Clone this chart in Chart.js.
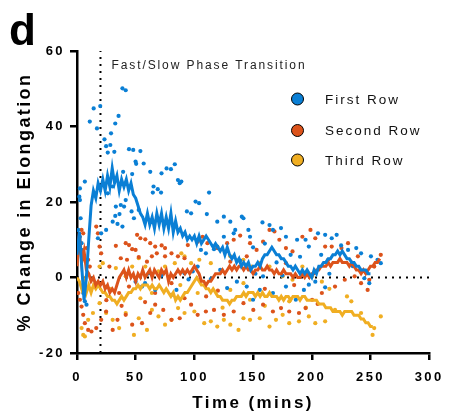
<!DOCTYPE html>
<html>
<head>
<meta charset="utf-8">
<script src="https://cdn.jsdelivr.net/npm/chart.js@4/dist/chart.umd.min.js"></script>
<style>
  html, body { margin: 0; padding: 0; background: #fff; }
  #wrap { width: 450px; height: 414px; }
</style>
</head>
<body>
<div id="wrap"><canvas id="chart" width="450" height="414"></canvas></div>
<script>
// time points (mins) of the averaged traces
const lineTimes = [
  0,2,4,6,8,10,12,14,16,18,
  20,22,24,26,28,30,32,34,36,38,
  40,42,44,46,48,50,52,54,56,58,
  60,62,64,66,68,70,72,74,76,78,
  80,82,84,86,88,90,92,94,96,98,
  100,102,104,106,108,110,112,114,116,118,
  120,122,124,126,128,130,132,134,136,138,
  140,142,144,146,148,150,152,154,156,158,
  160,162,164,166,168,170,172,174,176,178,
  180,182,184,186,188,190,192,194,196,198,
  200,202,204,206,208,210,212,214,216,218,
  220,222,224,226,228,230,232,234,236,238,
  240,242,244,246,248,250,252,254,256,258
];

const firstRowMean = [
  6, 12, 3, -6, 0, 10, 19, 23, 21, 25,
  23, 26, 23, 27, 24, 29, 25, 27, 23, 26,
  24, 26, 23, 25, 22, 21, 19, 17, 16, 14,
  17, 14, 16, 13, 17, 14, 17, 13, 16, 13,
  17, 12, 15, 12, 13, 11, 12, 10, 11, 10,
  11, 9, 11, 9, 10, 11, 10, 9, 8, 9,
  8, 7, 8, 6, 8, 6, 5, 6, 4, 5,
  3, 4, 3, 4, 2, 3, 3, 4, 3, 5,
  6, 6, 7, 8, 7, 6, 6, 5, 5, 4,
  3, 3, 2, 3, 2, 1, 2, 1, 2, 1,
  0, 2, 1, 3, 3, 4, 4, 5, 5, 6,
  6, 7, 6, 7, 6, 5, 5, 4, 4, 3,
  3, 2, 2, 2, 1, 1
];

const secondRowMean = [
  3, 12, 4, 7, 2, 1, -1, 0, -2, -1,
  -2, -1, -3, -2, -4, -3, -4, -2, 0, 1,
  2, 0, 2, 0, 1, -1, 1, 0, 2, 0,
  1, 2, 0, 2, 1, 0, 2, 1, 2, -1,
  1, 0, 1, 2, 1, 2, 1, 2, 1, 2,
  3, 2, 1, -1, -1, -2, -1, -1, 0, 1,
  1, 1, 2, 1, 2, 3, 2, 3, 2, 3,
  3, 2, 3, 2, 2, 1, 2, 2, 3, 2,
  2, 3, 2, 2, 1, 2, 1, 1, 2, 1,
  1, 1, 0, 1, 0, 0, 1, 0, 1, 0,
  1, 1, 2, 2, 3, 3, 3, 4, 3, 4,
  4, 4, 5, 4, 4, 4, 3, 4, 3, 2,
  2, 1, 2, 1, 2, 3, 3, 4, 4, 5
];

const thirdRowMean = [
  0, -1, -3, -1, -4, -2, -4, -2, -3, -2,
  -3, -4, -4, -5, -5, -6, -6, -7, -6, -5,
  -6, -5, -4, -4, -3, -3, -2, -3, -2, -2,
  -2, -3, -2, -3, -3, -2, -3, -4, -3, -4,
  -5, -4, -6, -5, -6, -5, -4, -4, -3, -2,
  -1, 0, -1, -2, -2, -3, -3, -4, -3, -4,
  -5, -5, -6, -6, -6, -7, -6, -6, -5, -5,
  -5, -4, -5, -4, -4, -4, -5, -4, -5, -4,
  -5, -5, -4, -5, -5, -5, -6, -5, -6, -5,
  -5, -6, -5, -5, -5, -6, -5, -5, -6, -6,
  -6, -6, -6, -7, -7, -7, -8, -8, -8, -9,
  -9, -9, -9, -10, -9, -9, -9, -9, -10, -10,
  -10, -11, -11, -12, -12, -13, -13
];

// individual samples [time, % change]
const firstRowDots = [
  [38.7,50.1],[41.5,49.6],[14.2,44.8],[19.8,45.4],[10.9,41.3],[17,39.5],[35.4,42.8],[32.6,40.8],
  [23.4,36.6],[29,38.2],[24.8,34.8],[28.4,35.1],[26.2,33.1],[31.8,33.3],[44.3,34],[47.9,33.8],
  [54,33.5],[49.9,30.7],[50.4,30.1],[56.8,30.2],[62.4,28],[72,27.6],[76.3,28.9],[80,28.7],
  [83.3,30],[86,25.8],[88.9,25.4],[87.5,25],[47,27.4],[39.3,28],[65.2,24.1],[68.8,23.4],
  [71.6,22.5],[64.6,22.5],[112.5,22.5],[101,20.1],[104,19.7],[93.6,17.5],[97.2,17],[110.6,16.8],
  [6.7,25.4],[2.5,23.6],[2,21.4],[2.5,20.5],[22,24.5],[26.2,22.3],[30.4,24.1],[33.1,18.8],
  [37.3,19.2],[40.1,18.8],[41.5,20.5],[46.5,17.5],[32.6,16.3],[36.2,16.8],[30.4,14.8],[34.5,14.2],
  [38.7,13.5],[48.5,15.7],[52.6,17.9],[17.8,10.4],[20.6,11.7],[24.8,12.6],[119.5,14.8],[125.1,16.1],
  [130.6,14.8],[134.8,12.6],[140.4,16.1],[141.8,15.7],[146,12.6],[147.4,10.8],[158,14.6],[164,13.9],
  [166.9,12.6],[173.8,13.1],[178,10.8],[187.5,10],[194.7,10],[197.5,8.2],[205.3,11.7],[211.4,11.3],
  [217,10.4],[221.2,11.3],[230.9,7.3],[237.9,7.8],[242,6.4],[250.4,5.6],[256,4.7],[258.8,3.8],
  [249,-1.5],[244.8,-0.2],[114,-0.4],[127.9,-2.8],[136.2,-1.1],[144.6,-2.4],[150,-5.9],[155.7,-3.3],
  [158.5,0.3],[166.9,-4.1],[178,-2.4],[186.4,-5.9],[193.3,-3.3],[203,-1.1],[211.4,-2.6],[197.5,-1.9],
  [84.7,-3.3],[80.5,-4.6],[66.6,-3.3],[55.4,-2.4],[49.9,-1.1],[61,1.1],[91.6,1.1],[98.6,1.6],
  [102.8,2.9],[105.6,7.3],[109.8,6.4],[116.7,7.5],[125.1,10.8],[133.5,11.7],[119.5,8.2],
  [6.7,-6.3],[8.1,-7.2],[5.3,-4.1],[3.9,7.3],[3.9,9.1],[2.5,10.8],[1.1,12.6],[3.1,15.7],
  [170,4],[182,6],[190,5.5],[215,1],[225,8.5],[235,3],[160,9],[150,8],
  [58,-1.5],[72,0.5],[95,-0.5],[122,2],[139,4.5],[152,1],[175,0.5],[208,6]
];

const secondRowDots = [
  [16.4,13.5],[17.8,11.7],[19.2,8.2],[20.6,6.4],[3.9,12.6],[5.3,11.7],[8.1,7.8],[9.5,4.7],[10.9,2.9],
  [33.1,8.4],[41.5,9.1],[44.3,8.6],[47,7.5],[49.9,7.3],[51.2,11.3],[54,10.4],[58.2,10.1],[62.4,9.1],
  [66.6,8.2],[72.1,8.5],[75,7.8],[37.3,5.1],[42.6,4.7],[52.6,5.4],[59.6,4.2],[63.8,5.6],[68,6.4],
  [75,5.6],[80.5,6.4],[86,5.6],[91.6,5.1],[94.4,8.6],[102.8,9.5],[107,10.8],[111.1,9.1],[119.5,7.8],
  [127.9,9.1],[133.5,10],[139,11.1],[147.4,9.1],[153,7.3],[158.5,9.5],[164,12.6],[168.2,12.2],
  [172.4,10],[178,7.8],[183.6,6.9],[192,10.8],[198.9,12.6],[203,10.4],[211.4,8.2],[217,8.2],
  [225.3,7.8],[230.9,9.1],[239.3,5.6],
  [1.1,-4.1],[2.5,-5.9],[3.9,-7.7],[5.3,-9.9],[6.7,-12.1],[9.5,-13.9],[12.3,-14.3],[16.4,-13.4],
  [20.6,-11.2],[24.8,-9],[30.4,-13.9],[34.5,-11.2],[41.5,-9.9],[47,-12.5],[55.4,-12.1],[62.4,-9.4],
  [66.6,-7.2],[73.5,-8.6],[80.5,-11.2],[87.5,-10.8],[91.6,-5.5],[97.2,-7.2],[102.8,-9.9],[109.8,-9],
  [116.7,-8.6],[125.1,-9.9],[133.5,-9],[141.8,-6.8],[150.2,-8.6],[158.5,-7.2],[166.9,-9],[173.8,-8.1],
  [180.8,-9],[189.1,-9.4],[194.7,-8.1],[200.3,-5.9],[208.6,-4.1],[219.8,-2.4],[228.1,-0.6],[236.5,0.3],
  [242,-1.5],[247.6,-3.3],
  [130.6,4.2],[144.6,5.6],[178,3.8],[214,4.7],[258.8,6],[253.2,2.9],[249,-0.6],
  [27.6,2.9],[35.9,-4.1],[44.3,-2.4],[66.6,-4.1],[80.5,-1.5],
  [25,-6],[38,-7.5],[58,-6.5],[110,-5],[120,-3.5],[160,-3],[185,-2],[205,-7]
];

const thirdRowDots = [
  [19.2,2.9],[22,3.8],[33.1,2.5],[47,2.9],[52.6,5.1],[58.2,2.9],[69.4,1.6],[75,2.9],[83.3,3.8],
  [88.9,6.4],[91.6,5.6],[97.2,3.8],[104.2,4.7],[114,3.8],[119.5,8.2],[130.6,5.6],[141.8,4.7],
  [148.8,2.9],[155.7,3.8],[164,2.9],[175.2,0.3],[183.6,-0.6],[192,2.9],[200.3,0.3],[208.6,-1.1],
  [3.9,-13.4],[5.3,-15.2],[6.7,-15.6],[9.5,-11.2],[13.6,-9.4],[19.2,-6.8],[24.8,-9.4],[30.4,-11.2],
  [35.9,-13.4],[41.5,-9.4],[48.5,-15.2],[52.6,-10.8],[59.6,-13.9],[63.8,-8.6],[69.4,-10.3],[75,-12.5],
  [80.5,-11.2],[86.1,-8.1],[91.6,-9.4],[100,-9],[108.4,-12.1],[114,-11.6],[119.5,-13],[125.1,-11.2],
  [130.6,-12.5],[137.6,-13.9],[141.8,-10.8],[147.4,-11.2],[155.7,-10.8],[164,-13],[169.5,-11.2],
  [175.2,-9.9],[180.8,-12.1],[189.1,-11.6],[197.5,-10.3],[203,-12.1],[211.4,-11.6],[219.8,-8.6],
  [233.7,-6.3],[242,-9.4],[253.2,-13.4],[251.8,-15.2],[258.8,-10.3],
  [41.5,0.3],[63.8,-4.1],[102.8,-4.1],[130.6,-3.3],[141.8,-1.5],[147.4,-5.9],[180.8,-6.3],
  [28,-3],[54,-5.5],[88,-2],[124,-8],[160,-7.5],[195,-8],[215,-3],[230,-5]
];

const seriesNames = ["First Row", "Second Row", "Third Row"];
const seriesColors = ["#0a7fd5", "#dc531b", "#f0ae22"];

const transitionTime = 20;
const xTicks = [0, 300, 50];   // min, max, step
const yTicks = [-20, 60, 20];

const toLine = (values) => values.map((v, i) => ({ x: lineTimes[i], y: v }));
const toDots = (pairs) => pairs.map((p) => ({ x: p[0], y: p[1] }));

const lineSet = (values, i) => ({
  label: seriesNames[i] + " mean",
  data: toLine(values),
  showLine: true,
  borderColor: seriesColors[i],
  borderWidth: 3,
  pointRadius: 0,
  tension: 0,
  order: i,
});

const dotSet = (pairs, i) => ({
  label: seriesNames[i],
  data: toDots(pairs),
  showLine: false,
  backgroundColor: seriesColors[i],
  borderWidth: 0,
  pointRadius: 2.1,
  order: 3 + i,
});

const refLine = (pts) => ({
  label: "ref",
  data: pts,
  showLine: true,
  borderColor: "#000",
  borderWidth: 2,
  borderDash: [2, 5],
  pointRadius: 0,
  order: 9,
});

// letter spacing for axis text, and the overlay labels
const overlay = {
  id: "overlay",
  beforeDraw(chart) {
    chart.ctx.letterSpacing = "2.4px";
  },
  afterDraw(chart) {
    const ctx = chart.ctx;
    const x = chart.scales.x;
    const area = chart.chartArea;
    ctx.save();
    ctx.fillStyle = "#000";
    ctx.letterSpacing = "0px";
    ctx.font = "bold 44px 'Liberation Sans', Arial, sans-serif";
    ctx.textBaseline = "alphabetic";
    ctx.textAlign = "left";
    ctx.fillText("d", 9, 45);

    ctx.fillStyle = "#222";
    ctx.letterSpacing = "1.9px";
    ctx.font = "12px 'Liberation Sans', Arial, sans-serif";
    ctx.textBaseline = "middle";
    ctx.fillText("Fast/Slow Phase Transition", x.getPixelForValue(transitionTime) + 11, area.top + 15);

    ctx.font = "13.5px 'Liberation Sans', Arial, sans-serif";
    ctx.letterSpacing = "2px";
    const rows = [99, 130.5, 160];
    seriesNames.forEach((name, i) => {
      ctx.beginPath();
      ctx.arc(297.5, rows[i], 6, 0, Math.PI * 2);
      ctx.fillStyle = seriesColors[i];
      ctx.fill();
      ctx.lineWidth = 1;
      ctx.strokeStyle = "#000";
      ctx.stroke();
      ctx.fillStyle = "#111";
      ctx.fillText(name, 325, rows[i] + 1);
    });
    ctx.restore();
  },
};

const axisFont = { family: "'Liberation Sans', Arial, sans-serif", weight: "bold", size: 13 };
const xTitleFont = { family: "'Liberation Sans', Arial, sans-serif", weight: "bold", size: 17 };
const yTitleFont = { family: "'Liberation Sans', Arial, sans-serif", weight: "bold", size: 18 };

new Chart(document.getElementById("chart"), {
  type: "scatter",
  data: {
    datasets: [
      lineSet(firstRowMean, 0),
      lineSet(secondRowMean, 1),
      lineSet(thirdRowMean, 2),
      dotSet(firstRowDots, 0),
      dotSet(secondRowDots, 1),
      dotSet(thirdRowDots, 2),
      refLine([{ x: transitionTime, y: yTicks[0] }, { x: transitionTime, y: yTicks[1] }]),
      refLine([{ x: xTicks[0], y: 0 }, { x: xTicks[1], y: 0 }]),
    ],
  },
  options: {
    responsive: false,
    animation: false,
    layout: { padding: { top: 51, right: 14, left: 0, bottom: 0 } },
    plugins: { legend: { display: false }, tooltip: { enabled: false } },
    scales: {
      x: {
        type: "linear",
        min: xTicks[0],
        max: xTicks[1],
        ticks: { stepSize: xTicks[2], color: "#000", font: axisFont, padding: 10, maxRotation: 0 },
        grid: { drawOnChartArea: false, tickLength: 7, color: "#000", lineWidth: 2.5 },
        border: { color: "#000", width: 2.5 },
        title: { display: true, text: "Time (mins)", color: "#000", font: xTitleFont, padding: { top: 0, bottom: 0 } },
        afterFit(scale) { scale.height = 61; },
      },
      y: {
        min: yTicks[0],
        max: yTicks[1],
        ticks: { stepSize: yTicks[2], color: "#000", font: axisFont, padding: 5 },
        grid: { drawOnChartArea: false, tickLength: 7, color: "#000", lineWidth: 2.5 },
        border: { color: "#000", width: 2.5 },
        title: { display: true, text: "% Change in Elongation", color: "#000", font: yTitleFont, padding: { top: 14, bottom: 0 } },
        afterFit(scale) { scale.width = 77; },
      },
    },
  },
  plugins: [overlay],
});
</script>
</body>
</html>
